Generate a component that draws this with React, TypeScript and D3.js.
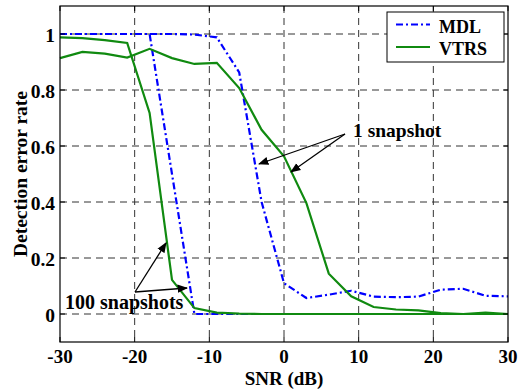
import React, { useRef, useEffect } from "react";
import * as d3 from "d3";

// SNR values (dB), 3 dB steps
const snr = [-30, -27, -24, -21, -18, -15, -12, -9, -6, -3, 0, 3, 6, 9, 12, 15, 18, 21, 24, 27, 30];

// detection error rate
const mdl1 = [1, 1, 1, 1, 1, 1, 0.998, 0.988, 0.863, 0.4, 0.11, 0.057, 0.069, 0.083, 0.062, 0.06, 0.062, 0.087, 0.09, 0.065, 0.063];
const vtrs1 = [0.914, 0.936, 0.93, 0.916, 0.947, 0.914, 0.893, 0.897, 0.807, 0.658, 0.563, 0.396, 0.144, 0.063, 0.025, 0.016, 0.013, 0.003, 0, 0.005, 0];
const mdl100 = [1, 1, 1, 1, 1, 0.5, 0, 0, 0, 0, 0, 0, 0, 0, 0, 0, 0, 0, 0, 0, 0];
const vtrs100 = [0.988, 0.985, 0.978, 0.968, 0.718, 0.122, 0.021, 0.005, 0.001, 0, 0, 0, 0, 0, 0, 0, 0, 0, 0, 0, 0];

const xTicks = [-30, -20, -10, 0, 10, 20, 30];
const yTicks = [0, 0.2, 0.4, 0.6, 0.8, 1];

const App: React.FC = () => {
  const ref = useRef<SVGSVGElement | null>(null);

  useEffect(() => {
    const width = 531;
    const height = 390;
    const left = 60, right = 508, top = 6, bottom = 342;
    const font = "Liberation Serif, Times New Roman, DejaVu Serif, serif";

    const svg = d3.select(ref.current)
      .attr("width", width)
      .attr("height", height)
      .style("position", "absolute")
      .style("left", "0px")
      .style("top", "0px")
      .style("background", "white");
    svg.selectAll("*").remove();

    const x = d3.scaleLinear().domain([-30, 30]).range([left, right]);
    const y = d3.scaleLinear().domain([-0.1, 1.1]).range([bottom, top]);

    // grid
    const grid = svg.append("g").attr("stroke", "#333").attr("stroke-width", 1).attr("stroke-dasharray", "7,5");
    grid.selectAll(".gx").data(xTicks.slice(1, -1)).join("line")
      .attr("x1", (d) => x(d)).attr("x2", (d) => x(d)).attr("y1", top).attr("y2", bottom);
    grid.selectAll(".gy").data(yTicks).join("line")
      .attr("y1", (d) => y(d)).attr("y2", (d) => y(d)).attr("x1", left).attr("x2", right);

    // series
    const line = (vals: number[]) =>
      d3.line<number>().x((_, i) => x(snr[i])).y((d) => y(d))(vals);

    const series = [
      { v: mdl100, c: "#0000ff", dash: "7,3,2,3" },
      { v: mdl1, c: "#0000ff", dash: "7,3,2,3" },
      { v: vtrs100, c: "#108a10", dash: null },
      { v: vtrs1, c: "#108a10", dash: null },
    ];
    series.forEach((s) => {
      svg.append("path")
        .attr("d", line(s.v))
        .attr("fill", "none")
        .attr("stroke", s.c)
        .attr("stroke-width", 2.2)
        .attr("stroke-dasharray", s.dash);
    });

    // frame
    svg.append("rect")
      .attr("x", left).attr("y", top)
      .attr("width", right - left).attr("height", bottom - top)
      .attr("fill", "none").attr("stroke", "black").attr("stroke-width", 1.2);

    // ticks (inward)
    const tk = svg.append("g").attr("stroke", "black").attr("stroke-width", 1);
    xTicks.forEach((t) => {
      tk.append("line").attr("x1", x(t)).attr("x2", x(t)).attr("y1", bottom).attr("y2", bottom - 5);
      tk.append("line").attr("x1", x(t)).attr("x2", x(t)).attr("y1", top).attr("y2", top + 5);
    });
    yTicks.forEach((t) => {
      tk.append("line").attr("y1", y(t)).attr("y2", y(t)).attr("x1", left).attr("x2", left + 5);
      tk.append("line").attr("y1", y(t)).attr("y2", y(t)).attr("x1", right).attr("x2", right - 5);
    });

    // legend
    svg.append("rect").attr("x", 387).attr("y", 12).attr("width", 117).attr("height", 50)
      .attr("fill", "white").attr("stroke", "black").attr("stroke-width", 1);
    svg.append("line").attr("x1", 396).attr("x2", 430).attr("y1", 24.5).attr("y2", 24.5)
      .attr("stroke", "#0000ff").attr("stroke-width", 2.2).attr("stroke-dasharray", "7,3,2,3");
    svg.append("line").attr("x1", 396).attr("x2", 430).attr("y1", 47).attr("y2", 47)
      .attr("stroke", "#108a10").attr("stroke-width", 2.2);

    const txt = svg.append("g").style("font-family", font).attr("font-weight", "bold").attr("fill", "black");
    txt.selectAll(".xl").data(xTicks).join("text")
      .attr("x", (d) => x(d)).attr("y", 363).attr("text-anchor", "middle").attr("font-size", 19)
      .text((d) => d);
    txt.selectAll(".yl").data(yTicks).join("text")
      .attr("x", 55).attr("y", (d) => y(d) + 8).attr("text-anchor", "end").attr("font-size", 19.5)
      .text((d) => d);
    txt.append("text").attr("x", (left + right) / 2).attr("y", 385).attr("text-anchor", "middle")
      .attr("font-size", 19).text("SNR (dB)");
    txt.append("text").attr("transform", `translate(27,${(top + bottom) / 2}) rotate(-90)`)
      .attr("text-anchor", "middle").attr("font-size", 19.5).text("Detection error rate");
    txt.append("text").attr("x", 439).attr("y", 32.5).attr("font-size", 18).text("MDL");
    txt.append("text").attr("x", 439).attr("y", 55).attr("font-size", 18).text("VTRS");

    // annotations
    svg.append("defs").append("marker")
      .attr("id", "arr").attr("viewBox", "0 0 10 10").attr("refX", 9).attr("refY", 5)
      .attr("markerWidth", 8).attr("markerHeight", 8).attr("orient", "auto")
      .append("path").attr("d", "M0,1 L10,5 L0,9 Z").attr("fill", "black");
    const arrows = [
      [345, 134, 259, 164],
      [345, 134, 291, 172],
      [135, 292, 166, 243],
      [135, 292, 187, 288],
    ];
    arrows.forEach(([x1, y1, x2, y2]) => {
      svg.append("line").attr("x1", x1).attr("y1", y1).attr("x2", x2).attr("y2", y2)
        .attr("stroke", "black").attr("stroke-width", 1.3).attr("marker-end", "url(#arr)");
    });
    txt.append("text").attr("x", 353).attr("y", 137).attr("font-size", 19.5).text("1 snapshot");
    txt.append("text").attr("x", 65).attr("y", 309).attr("font-size", 20).text("100 snapshots");
  }, []);

  return <svg ref={ref}></svg>;
};

export default App;
